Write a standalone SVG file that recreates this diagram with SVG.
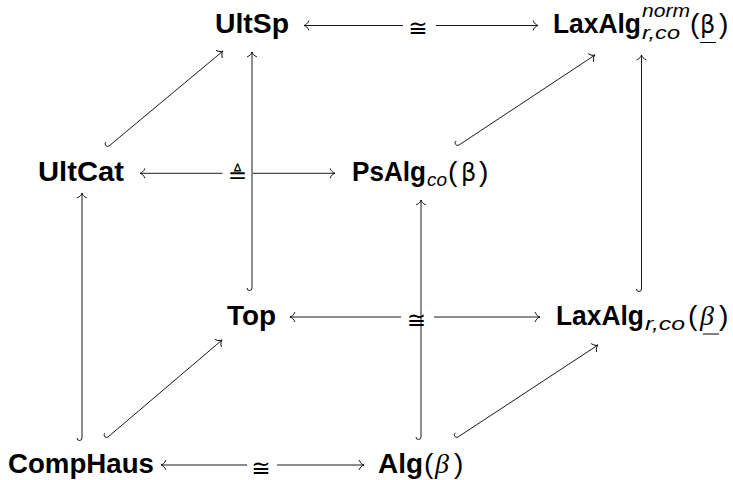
<svg xmlns="http://www.w3.org/2000/svg" width="733" height="480" viewBox="0 0 733 480">
  <style>
    .obj { font-family: "Liberation Sans", Arial, sans-serif; font-weight: bold; font-size: 27px; fill: #000; }
    .idx { font-family: "Liberation Sans", Arial, sans-serif; font-style: italic; font-weight: normal; font-size: 18px; }
    .par { font-family: "Liberation Sans", Arial, sans-serif; font-weight: normal; font-size: 28px; }
    .bb  { font-family: "DejaVu Sans", sans-serif; font-weight: normal; font-size: 24px; }
    .ib  { font-family: "Liberation Serif", "Times New Roman", serif; font-style: italic; font-weight: normal; font-size: 28px; }
    .rel { font-family: "DejaVu Sans", sans-serif; font-size: 23px; fill: #000; text-anchor: middle; }
    .ln  { fill: none; stroke: #000; stroke-width: 0.9; }
    .ul  { stroke: #000; stroke-width: 1; }
  </style>
  <defs>
    <marker id="tip" viewBox="-6 -6 8 12" refX="0" refY="0" markerWidth="8" markerHeight="12"
            markerUnits="userSpaceOnUse" orient="auto-start-reverse" overflow="visible">
      <path d="M-4.8,-4.6 C-3.8,-1.9 -1.5,-0.3 0,0 C-1.5,0.3 -3.8,1.9 -4.8,4.6"
            fill="none" stroke="#000" stroke-width="0.9" stroke-linecap="round"/>
    </marker>
  </defs>

  <!-- arrows of the cube -->
  <g id="connectors">
    <!-- horizontal isomorphisms -->
    <line class="ln" x1="304" y1="25.5" x2="403" y2="25.5" marker-start="url(#tip)"/>
    <line class="ln" x1="436" y1="25.5" x2="538" y2="25.5" marker-end="url(#tip)"/>
    <text class="rel" x="418" y="36">≅</text>

    <line class="ln" x1="140" y1="173.3" x2="222.5" y2="173.3" marker-start="url(#tip)"/>
    <line class="ln" x1="253" y1="173.3" x2="335" y2="173.3" marker-end="url(#tip)"/>
    <text class="rel" x="237.5" y="182.5">≜</text>

    <line class="ln" x1="290" y1="317" x2="401" y2="317" marker-start="url(#tip)"/>
    <line class="ln" x1="434" y1="317" x2="540" y2="317" marker-end="url(#tip)"/>
    <text class="rel" x="416.5" y="327.5">≅</text>

    <line class="ln" x1="161" y1="465" x2="247" y2="465" marker-start="url(#tip)"/>
    <line class="ln" x1="277" y1="465" x2="364" y2="465" marker-end="url(#tip)"/>
    <text class="rel" x="261" y="475.5">≅</text>

    <!-- vertical inclusions (hooked tails) -->
    <path class="ln" d="M77,438 A2.5,2.5 0 0 0 82,438 L82,193" marker-end="url(#tip)"/>
    <path class="ln" d="M247,288 A2.5,2.5 0 0 0 252,288 L252,52" marker-end="url(#tip)"/>
    <path class="ln" d="M416,437 A2.5,2.5 0 0 0 421,437 L421,200" marker-end="url(#tip)"/>
    <path class="ln" d="M636.5,289 A2.5,2.5 0 0 0 641.5,289 L641.5,55" marker-end="url(#tip)"/>

    <!-- diagonal inclusions (hooked tails) -->
    <path class="ln" d="M105.8,142.2 A2.5,2.5 0 0 0 109,146 L223,51" marker-end="url(#tip)"/>
    <path class="ln" d="M456.2,140.8 A2.5,2.5 0 0 0 459,145 L595,55" marker-end="url(#tip)"/>
    <path class="ln" d="M104.8,433.2 A2.5,2.5 0 0 0 108,437 L222,340" marker-end="url(#tip)"/>
    <path class="ln" d="M455.3,432.8 A2.5,2.5 0 0 0 458,437 L598,345" marker-end="url(#tip)"/>
  </g>

  <!-- objects -->
  <g id="UltSp">
    <text class="obj" x="215" y="33" textLength="74" lengthAdjust="spacingAndGlyphs">UltSp</text>
  </g>

  <g id="LaxAlgNorm">
    <text class="obj" x="553" y="33" textLength="88" lengthAdjust="spacingAndGlyphs">LaxAlg</text>
    <text class="idx" x="642" y="17" textLength="48" lengthAdjust="spacingAndGlyphs">norm</text>
    <text class="idx" x="642" y="39" textLength="38" lengthAdjust="spacingAndGlyphs">r,co</text>
    <text class="par" x="690" y="33">(</text>
    <text class="bb" x="700" y="33">β</text>
    <line class="ul" x1="700" y1="42.5" x2="716" y2="42.5"/>
    <text class="par" x="719" y="33">)</text>
  </g>

  <g id="UltCat">
    <text class="obj" x="38" y="180.5" textLength="86" lengthAdjust="spacingAndGlyphs">UltCat</text>
  </g>

  <g id="PsAlg">
    <text class="obj" x="352" y="180.5" textLength="74" lengthAdjust="spacingAndGlyphs">PsAlg</text>
    <text class="idx" x="427" y="186" textLength="20" lengthAdjust="spacingAndGlyphs">co</text>
    <text class="par" x="448" y="180.5">(</text>
    <text class="bb" x="461" y="180.5">β</text>
    <text class="par" x="479" y="180.5">)</text>
  </g>

  <g id="Top">
    <text class="obj" x="227" y="324.5" textLength="49" lengthAdjust="spacingAndGlyphs">Top</text>
  </g>

  <g id="LaxAlg">
    <text class="obj" x="556" y="324.5" textLength="88" lengthAdjust="spacingAndGlyphs">LaxAlg</text>
    <text class="idx" x="645" y="330" textLength="40" lengthAdjust="spacingAndGlyphs">r,co</text>
    <text class="par" x="688" y="324.5">(</text>
    <text class="ib" x="700" y="324.5">β</text>
    <line class="ul" x1="703" y1="334" x2="719" y2="334"/>
    <text class="par" x="719" y="324.5">)</text>
  </g>

  <g id="CompHaus">
    <text class="obj" x="8" y="472.5" textLength="146" lengthAdjust="spacingAndGlyphs">CompHaus</text>
  </g>

  <g id="Alg">
    <text class="obj" x="378" y="472.5" textLength="45" lengthAdjust="spacingAndGlyphs">Alg</text>
    <text class="par" x="424" y="472.5">(</text>
    <text class="ib" x="435" y="472.5">β</text>
    <text class="par" x="454" y="472.5">)</text>
  </g>
</svg>
